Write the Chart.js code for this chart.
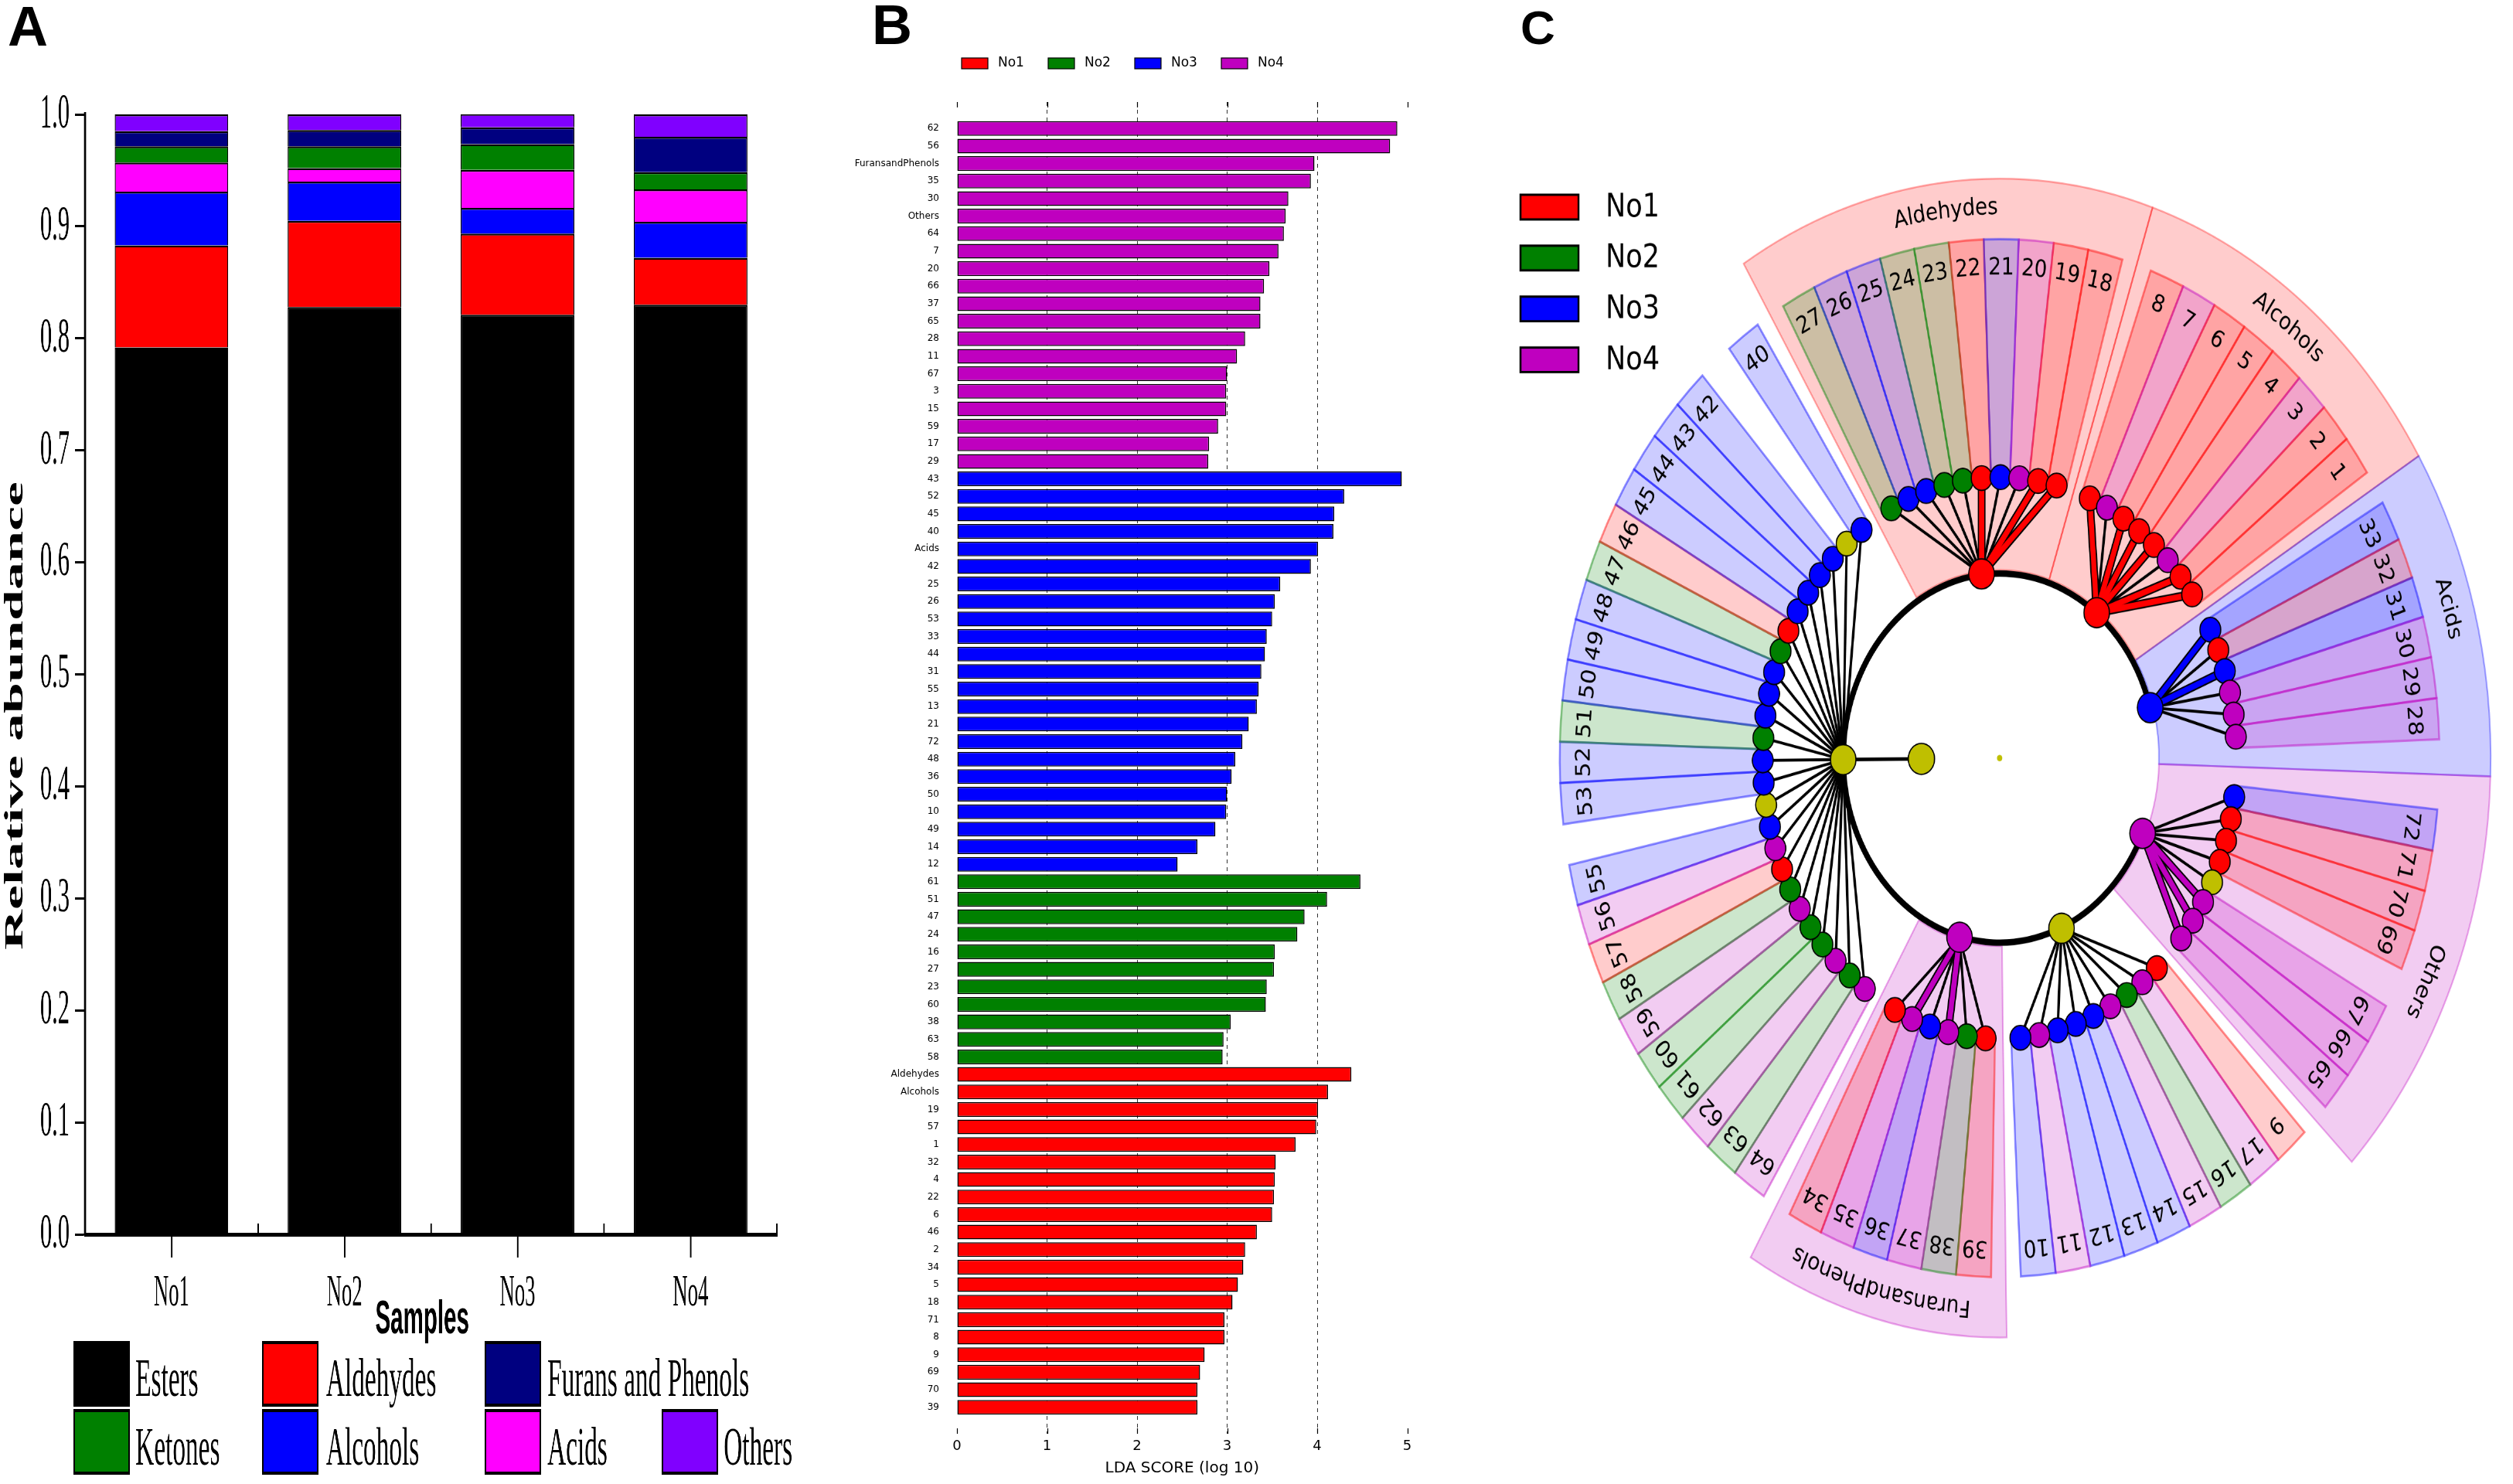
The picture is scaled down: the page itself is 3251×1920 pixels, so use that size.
<!DOCTYPE html>
<html>
<head>
<meta charset="utf-8">
<script src="https://cdn.jsdelivr.net/npm/chart.js@4.4.1/dist/chart.umd.min.js"></script>
<style>
html, body { margin: 0; padding: 0; background: #fff; overflow: hidden; }
body { width: 3251px; height: 1920px; position: relative; }
.panel { position: absolute; top: 0; }
#wrapA { left: 0; width: 2205px; height: 1920px; transform: scaleX(0.47619); transform-origin: 0 0; }
#wrapB { left: 1100px; width: 800px; height: 1920px; }
#wrapC { left: 1900px; width: 1351px; height: 1627px; transform: scaleY(1.18); transform-origin: 0 0; }
.tag { position: absolute; z-index: 5; font-family: "Liberation Sans", Arial, sans-serif; font-weight: bold; line-height: 1; color: #000; }
</style>
</head>
<body>
<div class="tag" style="left:10px;top:-2px;font-size:72px;">A</div>
<div class="tag" style="left:1128px;top:-4px;font-size:72px;">B</div>
<div class="tag" style="left:1967px;top:5px;font-size:62px;">C</div>
<div class="panel" id="wrapA"><canvas id="chartA"></canvas></div>
<div class="panel" id="wrapB"><canvas id="chartB"></canvas></div>
<div class="panel" id="wrapC"><canvas id="chartC"></canvas></div>

<script>
// ---------- Panel A: relative abundance per sample ----------
const samples = ['No1', 'No2', 'No3', 'No4'];
const esters = [0.792, 0.828, 0.821, 0.830];
const aldehydes = [0.091, 0.077, 0.0725, 0.042];
const alcohols = [0.048, 0.035, 0.023, 0.032];
const acids = [0.026, 0.012, 0.034, 0.029];
const ketones = [0.0145, 0.0195, 0.023, 0.0154];
const furans = [0.0135, 0.0145, 0.015, 0.0316];
const others = [0.015, 0.014, 0.012, 0.020];
const stackNames = ['Esters', 'Aldehydes', 'Alcohols', 'Acids', 'Ketones', 'Furans and Phenols', 'Others'];
const stackColors = ['#000000', '#ff0000', '#0000ff', '#ff00ff', '#008000', '#000080', '#8000ff'];
const legendOrder = ['Esters', 'Ketones', 'Aldehydes', 'Alcohols', 'Furans and Phenols', 'Acids', 'Others'];

// ---------- Panel B: LDA scores ----------
const groupNames = ['No1', 'No2', 'No3', 'No4'];
const groupColors = ['#ff0000', '#008000', '#0000ff', '#bf00bf'];
const no4Names = ['62', '56', 'FuransandPhenols', '35', '30', 'Others', '64', '7', '20', '66', '37', '65', '28', '11', '67', '3', '15', '59', '17', '29'];
const no4Scores = [4.89, 4.81, 3.97, 3.93, 3.68, 3.65, 3.63, 3.57, 3.47, 3.41, 3.37, 3.37, 3.20, 3.11, 3.00, 2.99, 2.99, 2.90, 2.80, 2.79];
const no3Names = ['43', '52', '45', '40', 'Acids', '42', '25', '26', '53', '33', '44', '31', '55', '13', '21', '72', '48', '36', '50', '10', '49', '14', '12'];
const no3Scores = [4.94, 4.30, 4.19, 4.18, 4.01, 3.93, 3.59, 3.53, 3.50, 3.44, 3.42, 3.38, 3.35, 3.33, 3.24, 3.17, 3.09, 3.05, 3.00, 2.99, 2.87, 2.67, 2.45];
const no2Names = ['61', '51', '47', '24', '16', '27', '23', '60', '38', '63', '58'];
const no2Scores = [4.48, 4.11, 3.86, 3.78, 3.53, 3.52, 3.44, 3.43, 3.04, 2.96, 2.95];
const no1Names = ['Aldehydes', 'Alcohols', '19', '57', '1', '32', '4', '22', '6', '46', '2', '34', '5', '18', '71', '8', '9', '69', '70', '39'];
const no1Scores = [4.38, 4.12, 4.01, 3.99, 3.76, 3.54, 3.53, 3.52, 3.50, 3.33, 3.20, 3.18, 3.12, 3.06, 2.97, 2.97, 2.75, 2.70, 2.67, 2.67];

// ---------- Panel C: cladogram (leaves in clockwise order per clade) ----------
const cladeNames = ['Aldehydes', 'Alcohols', 'Acids', 'Others', 'Ketones', 'FuransandPhenols', 'Esters'];
const cladeLeaves = [
    [27, 26, 25, 24, 23, 22, 21, 20, 19, 18],
    [8, 7, 6, 5, 4, 3, 2, 1],
    [33, 32, 31, 30, 29, 28],
    [72, 71, 70, 69, 68, 67, 66, 65],
    [9, 17, 16, 15, 14, 13, 12, 11, 10],
    [39, 38, 37, 36, 35, 34],
    [64, 63, 62, 61, 60, 59, 58, 57, 56, 55, 54, 53, 52, 51, 50, 49, 48, 47, 46, 45, 44, 43, 42, 41, 40]
];
const cladeGapsAfter = [1, 1, 2, 1, 1, 1, 1];

Chart.defaults.font.family = '"DejaVu Sans"';

// ================= Panel A =================
const panelAPlugin = {
    id: 'panelA',
    afterDraw(chart) {
        const ctx = chart.ctx;
        const ca = chart.chartArea;
        const xs = chart.scales.x;
        const half = (xs.getPixelForValue(1) - xs.getPixelForValue(0)) / 2;
        ctx.save();
        // small ticks at category borders
        ctx.strokeStyle = '#000';
        ctx.lineWidth = 4;
        samples.forEach((s, i) => {
            const bx = xs.getPixelForValue(i) + half;
            ctx.beginPath();
            ctx.moveTo(bx, ca.bottom);
            ctx.lineTo(bx, ca.bottom - 14);
            ctx.stroke();
        });
        // axis titles
        ctx.fillStyle = '#000';
        ctx.font = 'bold 72px "Liberation Serif"';
        ctx.textAlign = 'center';
        ctx.textBaseline = 'middle';
        ctx.save();
        ctx.translate(42, 926);
        ctx.rotate(-Math.PI / 2);
        ctx.fillText('Relative abundance', 0, 0);
        ctx.restore();
        ctx.font = 'bold 62px "Liberation Sans"';
        ctx.textBaseline = 'alphabetic';
        ctx.fillText('Samples', 1147, 1725);
        // legend
        const slots = [[0, 0], [0, 1], [1, 0], [1, 1], [2, 0], [2, 1], [3, 1]];
        const boxX = [202, 714, 1319, 1800];
        const textX = [368, 886, 1487, 1966];
        const boxY = [1737, 1825];
        const baseY = [1806, 1895];
        ctx.font = '70px "Liberation Serif"';
        ctx.textAlign = 'left';
        legendOrder.forEach((name, i) => {
            const [c, r] = slots[i];
            const idx = stackNames.indexOf(name);
            ctx.fillStyle = stackColors[idx];
            ctx.fillRect(boxX[c], boxY[r], 149, 81);
            ctx.lineWidth = 4;
            ctx.strokeStyle = '#000';
            ctx.strokeRect(boxX[c], boxY[r], 149, 81);
            ctx.fillStyle = '#000';
            ctx.fillText(name, textX[c], baseY[r]);
        });
        ctx.restore();
    }
};

const stackValues = [esters, aldehydes, alcohols, acids, ketones, furans, others];

new Chart(document.getElementById('chartA'), {
    type: 'bar',
    data: {
        labels: samples,
        datasets: stackNames.map((name, i) => ({
            label: name,
            data: stackValues[i],
            backgroundColor: stackColors[i],
            borderColor: '#000',
            borderWidth: 2.5,
            barPercentage: 0.656,
            categoryPercentage: 1
        }))
    },
    options: {
        responsive: true,
        maintainAspectRatio: false,
        animation: false,
        devicePixelRatio: 1,
        events: [],
        layout: { padding: { top: 148, right: 94, left: 0, bottom: 0 } },
        plugins: { legend: { display: false }, tooltip: { enabled: false } },
        scales: {
            x: {
                stacked: true,
                offset: true,
                grid: { offset: false, drawOnChartArea: false, tickLength: 30, tickWidth: 4, tickColor: '#000' },
                border: { color: '#000', width: 5 },
                ticks: { color: '#000', font: { family: '"Liberation Serif"', size: 56 }, padding: 14 },
                afterFit(s) { s.height = 323; }
            },
            y: {
                stacked: true,
                min: 0,
                max: 1,
                grid: { drawOnChartArea: false, tickLength: 27, tickWidth: 3, tickColor: '#000' },
                border: { color: '#000', width: 6 },
                ticks: {
                    stepSize: 0.1,
                    color: '#000',
                    font: { family: '"Liberation Serif"', size: 64 },
                    padding: 15,
                    callback: v => v.toFixed(1)
                },
                afterFit(s) { s.width = 231; }
            }
        }
    },
    plugins: [panelAPlugin]
});

// ================= Panel B =================
const barGroups = [
    { g: 3, names: no4Names, scores: no4Scores },
    { g: 2, names: no3Names, scores: no3Scores },
    { g: 1, names: no2Names, scores: no2Scores },
    { g: 0, names: no1Names, scores: no1Scores }
];
const bLabels = [];
const bDatasets = [];
barGroups.forEach(grp => {
    const pts = [];
    grp.names.forEach((n, i) => {
        pts.push({ x: grp.scores[i], y: bLabels.length });
        bLabels.push(n);
    });
    bDatasets.push({
        label: groupNames[grp.g],
        data: pts,
        backgroundColor: groupColors[grp.g],
        borderColor: '#000',
        borderWidth: 1.5,
        borderSkipped: false,
        grouped: false,
        barPercentage: 0.84,
        categoryPercentage: 1
    });
});

const panelBPlugin = {
    id: 'panelB',
    afterDraw(chart) {
        const ctx = chart.ctx;
        const ca = chart.chartArea;
        const xs = chart.scales.x;
        ctx.save();
        ctx.strokeStyle = '#000';
        ctx.lineWidth = 1.2;
        for (let v = 0; v <= 5; v++) {
            const px = Math.round(xs.getPixelForValue(v)) + 0.5;
            ctx.beginPath();
            ctx.moveTo(px, ca.top);
            ctx.lineTo(px, ca.top + 7);
            ctx.moveTo(px, ca.bottom - 7);
            ctx.lineTo(px, ca.bottom);
            ctx.stroke();
        }
        // legend
        ctx.font = '17px "DejaVu Sans"';
        ctx.textBaseline = 'middle';
        ctx.textAlign = 'left';
        groupNames.forEach((name, g) => {
            const bx = 144 + 112 * g;
            ctx.fillStyle = groupColors[g];
            ctx.fillRect(bx, 75, 34, 14);
            ctx.lineWidth = 1.2;
            ctx.strokeRect(bx, 75, 34, 14);
            ctx.fillStyle = '#000';
            ctx.fillText(name, bx + 47, 82);
        });
        ctx.restore();
    }
};

new Chart(document.getElementById('chartB'), {
    type: 'bar',
    data: { datasets: bDatasets },
    options: {
        indexAxis: 'y',
        responsive: true,
        maintainAspectRatio: false,
        animation: false,
        devicePixelRatio: 1,
        events: [],
        layout: { padding: { top: 132, right: 79.5, left: 0, bottom: 0 } },
        plugins: { legend: { display: false }, tooltip: { enabled: false } },
        scales: {
            x: {
                type: 'linear',
                min: 0,
                max: 5,
                ticks: { stepSize: 1, color: '#000', font: { size: 18 }, padding: 6 },
                grid: {
                    drawTicks: false,
                    lineWidth: 1,
                    color: c => (c.tick && c.tick.value > 0 && c.tick.value < 5) ? 'rgba(0,0,0,0.8)' : 'rgba(0,0,0,0)'
                },
                border: { display: false, dash: [5, 5] },
                title: { display: true, text: 'LDA SCORE (log 10)', color: '#000', font: { size: 20 }, padding: { top: 0, bottom: 8 } },
                afterFit(s) { s.height = 65; }
            },
            y: {
                type: 'linear',
                reverse: true,
                min: -1,
                max: bLabels.length,
                afterBuildTicks(s) { s.ticks = bLabels.map((l, i) => ({ value: i })); },
                ticks: { autoSkip: false, color: '#000', font: { size: 12 }, padding: 15, callback: v => bLabels[v] ?? '' },
                grid: { display: false },
                border: { display: false },
                afterFit(s) { s.width = 138; }
            }
        }
    },
    plugins: [panelBPlugin]
});

// ================= Panel C =================
const groupOf = {};
[no1Names, no2Names, no3Names, no4Names].forEach((arr, g) => arr.forEach(n => { groupOf[n] = g; }));
const bandRGB = ['255,0,0', '0,128,0', '0,0,255', '191,0,191'];
const yellow = '#bfbf00';

const STEP = 360 / (72 + 8 * 0.85);
const GAP = 0.85 * STEP;
const R_CLASS = 208, R_LEAF = 315, R_INNER = 104;

function polar(r, deg) {
    const a = deg * Math.PI / 180;
    return { x: r * Math.sin(a), y: r * Math.cos(a) };
}

const leaves = [];
const clades = [];
let ang = -27.2;
cladeLeaves.forEach((list, ci) => {
    const first = ang;
    list.forEach((id, k) => {
        const g = groupOf[String(id)];
        leaves.push({ id, clade: ci, angle: ang, group: g === undefined ? -1 : g });
        if (k < list.length - 1) ang += STEP;
    });
    const last = ang;
    const cg = groupOf[cladeNames[ci]];
    clades.push({ name: cladeNames[ci], first, last, mid: (first + last) / 2, group: cg === undefined ? -1 : cg });
    ang += STEP + GAP * cladeGapsAfter[ci];
});
clades.forEach((c, ci) => {
    const before = cladeGapsAfter[(ci + cladeGapsAfter.length - 1) % cladeGapsAfter.length];
    c.start = c.first - STEP / 2 - GAP * before / 2;
    c.end = c.last + STEP / 2 + GAP * cladeGapsAfter[ci] / 2;
});
const colorOf = g => g < 0 ? yellow : groupColors[g];
const esterClade = clades[cladeNames.indexOf('Esters')];

// nodes
const nodePts = [], nodeR = [], nodeFill = [], nodeBW = [];
nodePts.push({ x: 0, y: 0 }); nodeR.push(3.5); nodeFill.push(yellow); nodeBW.push(0);
nodePts.push(polar(R_INNER, esterClade.mid)); nodeR.push(17); nodeFill.push(yellow); nodeBW.push(1.5);
clades.forEach(c => { nodePts.push(polar(R_CLASS, c.mid)); nodeR.push(16.5); nodeFill.push(colorOf(c.group)); nodeBW.push(1.5); });
leaves.forEach(l => { nodePts.push(polar(R_LEAF, l.angle)); nodeR.push(13.5); nodeFill.push(colorOf(l.group)); nodeBW.push(1.5); });

const cDatasets = [{
    data: nodePts,
    pointRadius: nodeR,
    pointBackgroundColor: nodeFill,
    pointBorderColor: '#000',
    pointBorderWidth: nodeBW,
    order: 0
}];
function edge(p1, p2, color, width, order) {
    cDatasets.push({ data: [p1, p2], showLine: true, pointRadius: 0, borderColor: color, borderWidth: width, order });
}
edge(polar(R_INNER, esterClade.mid), polar(R_CLASS, esterClade.mid), '#000', 4, 3);
leaves.forEach(l => {
    const c = clades[l.clade];
    const p1 = polar(R_CLASS, c.mid), p2 = polar(R_LEAF, l.angle);
    if (c.group >= 0 && c.group === l.group) {
        edge(p1, p2, '#000', 10, 2);
        edge(p1, p2, groupColors[l.group], 6.5, 1);
    } else {
        edge(p1, p2, '#000', 3.2, 3);
    }
});

const rad = d => d * Math.PI / 180;
const panelCPlugin = {
    id: 'panelC',
    beforeDatasetsDraw(chart) {
        const ctx = chart.ctx;
        const xs = chart.scales.x, ys = chart.scales.y;
        const cx = xs.getPixelForValue(0), cy = ys.getPixelForValue(0);
        const k = xs.getPixelForValue(1) - cx;
        function sector(r0, r1, a0, a1, fill, stroke, lw) {
            ctx.beginPath();
            ctx.arc(cx, cy, r1 * k, rad(a0 - 90), rad(a1 - 90));
            ctx.arc(cx, cy, r0 * k, rad(a1 - 90), rad(a0 - 90), true);
            ctx.closePath();
            ctx.fillStyle = fill;
            ctx.fill();
            ctx.lineWidth = lw;
            ctx.strokeStyle = stroke;
            ctx.stroke();
        }
        ctx.save();
        clades.forEach(c => {
            if (c.group < 0) return;
            sector(212, 653, c.start, c.end, 'rgba(' + bandRGB[c.group] + ',0.2)', 'rgba(' + bandRGB[c.group] + ',0.35)', 2);
        });
        leaves.forEach(l => {
            if (l.group < 0) return;
            sector(318, 585, l.angle - STEP / 2, l.angle + STEP / 2, 'rgba(' + bandRGB[l.group] + ',0.2)', 'rgba(' + bandRGB[l.group] + ',0.45)', 2.5);
        });
        // backbone arc between class nodes
        const cOthers = clades[cladeNames.indexOf('Others')];
        const cAcids = clades[cladeNames.indexOf('Acids')];
        ctx.beginPath();
        ctx.arc(cx, cy, R_CLASS * k, rad(cOthers.mid - 90), rad(cAcids.mid + 360 - 90));
        ctx.lineWidth = 7;
        ctx.strokeStyle = '#000';
        ctx.stroke();
        ctx.restore();
    },
    afterDatasetsDraw(chart) {
        const ctx = chart.ctx;
        const xs = chart.scales.x, ys = chart.scales.y;
        const cx = xs.getPixelForValue(0), cy = ys.getPixelForValue(0);
        const k = xs.getPixelForValue(1) - cx;
        ctx.save();
        ctx.fillStyle = '#000';
        ctx.textAlign = 'center';
        ctx.textBaseline = 'middle';
        ctx.font = '26px "DejaVu Sans"';
        leaves.forEach(l => {
            if (l.group < 0) return;
            const p = polar(552, l.angle);
            ctx.save();
            ctx.translate(cx + p.x * k, cy - p.y * k);
            ctx.rotate(rad(l.angle));
            ctx.fillText(String(l.id), 0, 0);
            ctx.restore();
        });
        // clade names along the outer ring
        const R_TXT = 620;
        clades.forEach(c => {
            if (c.group < 0) return;
            const total = ctx.measureText(c.name).width;
            let acc = 0;
            const startDeg = c.mid - (total / 2) / (R_TXT * k) * 180 / Math.PI;
            for (const ch of c.name) {
                const w = ctx.measureText(ch).width;
                const a = startDeg + ((acc + w / 2) / (R_TXT * k)) * 180 / Math.PI;
                const p = polar(R_TXT, a);
                ctx.save();
                ctx.translate(cx + p.x * k, cy - p.y * k);
                ctx.rotate(rad(a));
                ctx.fillText(ch, 0, 0);
                ctx.restore();
                acc += w;
            }
        });
        // legend
        ctx.font = '35px "DejaVu Sans"';
        ctx.textAlign = 'left';
        groupNames.forEach((name, g) => {
            const yc = 227 + 55.8 * g;
            ctx.fillStyle = groupColors[g];
            ctx.fillRect(67, yc - 13.5, 75, 27);
            ctx.lineWidth = 2.5;
            ctx.strokeStyle = '#000';
            ctx.strokeRect(67, yc - 13.5, 75, 27);
            ctx.fillStyle = '#000';
            ctx.fillText(name, 177, yc + 1);
        });
        ctx.restore();
    }
};

new Chart(document.getElementById('chartC'), {
    type: 'scatter',
    data: { datasets: cDatasets },
    options: {
        responsive: true,
        maintainAspectRatio: false,
        animation: false,
        devicePixelRatio: 1.5,
        events: [],
        layout: { padding: 0 },
        plugins: { legend: { display: false }, tooltip: { enabled: false } },
        scales: {
            x: { type: 'linear', display: false, min: -687, max: 664 },
            y: { type: 'linear', display: false, min: -795.6, max: 831.4 }
        }
    },
    plugins: [panelCPlugin]
});
</script>
</body>
</html>
